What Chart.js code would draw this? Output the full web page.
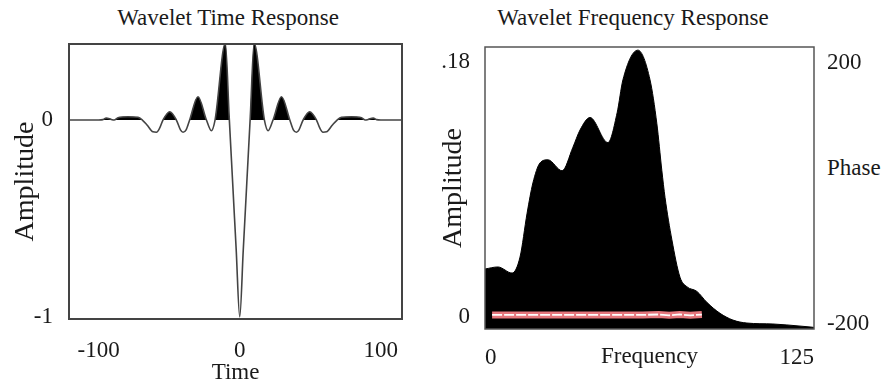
<!DOCTYPE html>
<html>
<head>
<meta charset="utf-8">
<script src="https://cdn.jsdelivr.net/npm/chart.js@4.4.1/dist/chart.umd.min.js"></script>
<style>
  body { margin: 0; background: #fff; width: 885px; height: 387px; position: relative; overflow: hidden; }
  canvas { position: absolute; top: 0; }
  .teks { position: absolute; font-family: "Liberation Serif", serif; font-size: 23px; color: #1a1a1a; line-height: 24px; white-space: nowrap; }
  .judul { width: 400px; text-align: center; top: 6px; }
</style>
</head>
<body>
<div class="teks judul" style="left: 28px;">Wavelet Time Response</div>
<div class="teks judul" style="left: 433px;">Wavelet Frequency Response</div>
<div class="teks" style="left: 827px; top: 156px;">Phase</div>
<canvas id="timeChart" width="420" height="387" style="left: 0px;"></canvas>
<canvas id="freqChart" width="465" height="387" style="left: 420px;"></canvas>
<script>
// Data gelombang (wavelet) dalam domain waktu
const waktu = [-121, -100, -97, -94.6, -91, -89, -86.3, -79.2, -72.1, -69, -65.7, -61.5, -59, -56.7, -54.4,
  -49.6, -44.9, -42, -40.2, -38, -35.5, -29.6, -23.6, -20.1, -17.5, -10.2, -7.5, -5, -2.5, 0,
  2.5, 5, 7.5, 10.2, 17.5, 20.1, 23.6, 29.6, 35.5, 38, 40.2, 42, 44.9, 49.6, 54.4, 56.7, 59, 61.5, 65.7,
  69, 72.1, 79.2, 86.3, 89, 91, 94.6, 97, 100, 115];
const amplitudoWaktu = [0, 0, 0.002, 0.01, 0.003, 0, 0.012, 0.017, 0.014, 0, -0.025, -0.06, -0.062, -0.04, 0,
  0.042, 0, -0.05, -0.062, -0.05, 0, 0.118, 0, -0.054, 0, 0.39, 0.02, -0.32, -0.66, -1.0,
  -0.66, -0.32, 0.02, 0.39, 0, -0.054, 0, 0.118, 0, -0.05, -0.062, -0.05, 0, 0.042, 0, -0.04, -0.062, -0.06, -0.025,
  0, 0.014, 0.017, 0.012, 0, 0.003, 0.01, 0.002, 0, 0];

// Data spektrum amplitudo
const frekuensi = [0, 4.9, 10.3, 13.3, 16.0, 18.2, 20.9, 23.9, 29.3, 33.4, 36.1, 39.9, 46.7, 50.2, 52.4,
  58.1, 62.7, 65.3, 67.2, 68.4, 71.0, 74.1, 76.7, 80.5, 84.3, 89.3, 94.2, 99.5, 109.4, 114.7, 123.5, 125];
const amplitudoFrek = [0.0383, 0.0396, 0.0357, 0.0459, 0.074, 0.0932, 0.106, 0.108, 0.101, 0.116, 0.127, 0.135, 0.119, 0.138, 0.159,
  0.178, 0.159, 0.131, 0.101, 0.084, 0.057, 0.033, 0.027, 0.024, 0.017, 0.010, 0.0057, 0.0038, 0.0032, 0.0026, 0.0013, 0.001];

// Data fase
const frekuensiFase = [2.7, 20, 40, 60, 66, 70, 74, 78, 82.4];
const nilaiFase = [-180, -180, -180, -180, -179.4, -180.6, -179.4, -180.6, -179.6];

// Label sumbu
const tickWaktu = [-100, 0, 100];
const tickAmpWaktu = [-1, 0];
const tickFrek = [0, 125];
const tickAmpFrek = [0, 0.18];
const tickFase = [-200, 200];

document.addEventListener('DOMContentLoaded', function() {

    const hurufSerif = 'Liberation Serif';
    const warnaTeks = '#1a1a1a';

    // plugin kecil untuk menggambar bingkai area grafik
    const bingkai = {
        id: 'bingkai',
        afterDatasetsDraw(chart, args, opts) {
            const a = chart.chartArea;
            const ctx = chart.ctx;
            ctx.save();
            ctx.strokeStyle = opts.color;
            ctx.lineWidth = opts.width;
            ctx.strokeRect(a.left, a.top, a.right - a.left, a.bottom - a.top);
            ctx.restore();
        }
    };

    const pasangTick = (daftar) => (axis) => { axis.ticks = daftar.map(v => ({ value: v })); };
    const tickFont = { family: hurufSerif, size: 23 };

    /**
     * GRAFIK 1: Respon waktu wavelet
     */
    new Chart(document.getElementById('timeChart'), {
        type: 'line',
        data: {
            datasets: [{
                data: waktu.map((t, i) => ({ x: t, y: amplitudoWaktu[i] })),
                borderColor: '#444',
                borderWidth: 1.6,
                pointRadius: 0,
                cubicInterpolationMode: 'monotone',
                fill: { target: 'origin', above: '#000', below: 'rgba(0,0,0,0)' }
            }]
        },
        options: {
            responsive: false,
            animation: false,
            layout: { padding: { top: 44, right: 18, left: 0, bottom: 0 } },
            plugins: { legend: { display: false }, tooltip: { enabled: false }, bingkai: { color: '#444', width: 2 } },
            scales: {
                x: {
                    type: 'linear', min: -121, max: 115,
                    grid: { display: false, drawTicks: false },
                    border: { display: false },
                    afterBuildTicks: pasangTick(tickWaktu),
                    afterFit: (axis) => { axis.height = 68; },
                    ticks: { font: tickFont, color: warnaTeks, padding: 18, maxRotation: 0 },
                    title: { display: true, text: 'Time', font: tickFont, color: warnaTeks, padding: { top: 0, bottom: 0 } }
                },
                y: {
                    type: 'linear', min: -1.01, max: 0.386,
                    grid: { display: false, drawTicks: false },
                    border: { display: false },
                    afterBuildTicks: pasangTick(tickAmpWaktu),
                    afterFit: (axis) => { axis.width = 69; },
                    ticks: { font: tickFont, color: warnaTeks, padding: 16 },
                    title: { display: true, text: 'Amplitude', font: { family: hurufSerif, size: 28 }, color: warnaTeks, padding: { top: 9, bottom: 0 } }
                }
            }
        },
        plugins: [bingkai]
    });

    /**
     * GRAFIK 2: Respon frekuensi wavelet (amplitudo + fase)
     */
    const dataFase = frekuensiFase.map((f, i) => ({ x: f, y: nilaiFase[i] }));
    new Chart(document.getElementById('freqChart'), {
        type: 'line',
        data: {
            datasets: [{
                data: dataFase,
                yAxisID: 'fase',
                borderColor: '#ffffff',
                borderWidth: 1.8,
                borderDash: [10, 2],
                pointRadius: 0,
                fill: false
            }, {
                data: dataFase,
                yAxisID: 'fase',
                borderColor: '#e4777d',
                borderWidth: 7,
                pointRadius: 0,
                fill: false
            }, {
                data: frekuensi.map((f, i) => ({ x: f, y: amplitudoFrek[i] })),
                yAxisID: 'amp',
                borderColor: '#000',
                borderWidth: 1,
                pointRadius: 0,
                cubicInterpolationMode: 'monotone',
                backgroundColor: '#000',
                fill: 'origin'
            }]
        },
        options: {
            responsive: false,
            animation: false,
            layout: { padding: { top: 47, right: 0, left: 0, bottom: 0 } },
            plugins: { legend: { display: false }, tooltip: { enabled: false }, bingkai: { color: '#555', width: 1.5 } },
            scales: {
                x: {
                    type: 'linear', min: 0, max: 125,
                    grid: { display: false, drawTicks: false },
                    border: { display: false },
                    afterBuildTicks: pasangTick(tickFrek),
                    afterFit: (axis) => { axis.height = 58; },
                    ticks: { font: tickFont, color: warnaTeks, padding: 15, align: 'inner', maxRotation: 0 },
                    title: { display: true, text: 'Frequency', font: tickFont, color: warnaTeks, padding: { top: 0, bottom: 16 } }
                },
                amp: { type: 'linear', position: 'left', min: 0, max: 0.18, display: false },
                fase: { type: 'linear', position: 'right', min: -200, max: 200, display: false },
                ampLabel: {
                    type: 'linear', position: 'left', min: -0.00847, max: 0.1906,
                    grid: { display: false, drawTicks: false },
                    border: { display: false },
                    afterBuildTicks: pasangTick(tickAmpFrek),
                    afterFit: (axis) => { axis.width = 65; },
                    ticks: {
                        font: tickFont, color: warnaTeks, padding: 15,
                        callback: (v) => v === 0 ? '0' : String(v).replace(/^0/, '')
                    },
                    title: { display: true, text: 'Amplitude', font: { family: hurufSerif, size: 28 }, color: warnaTeks, padding: { top: 17, bottom: 0 } }
                },
                faseLabel: {
                    type: 'linear', position: 'right', min: -207.7, max: 224.5,
                    grid: { display: false, drawTicks: false },
                    border: { display: false },
                    afterBuildTicks: pasangTick(tickFase),
                    afterFit: (axis) => { axis.width = 71; },
                    ticks: { font: tickFont, color: warnaTeks, padding: 13 }
                }
            }
        },
        plugins: [bingkai]
    });

});
</script>
</body>
</html>
